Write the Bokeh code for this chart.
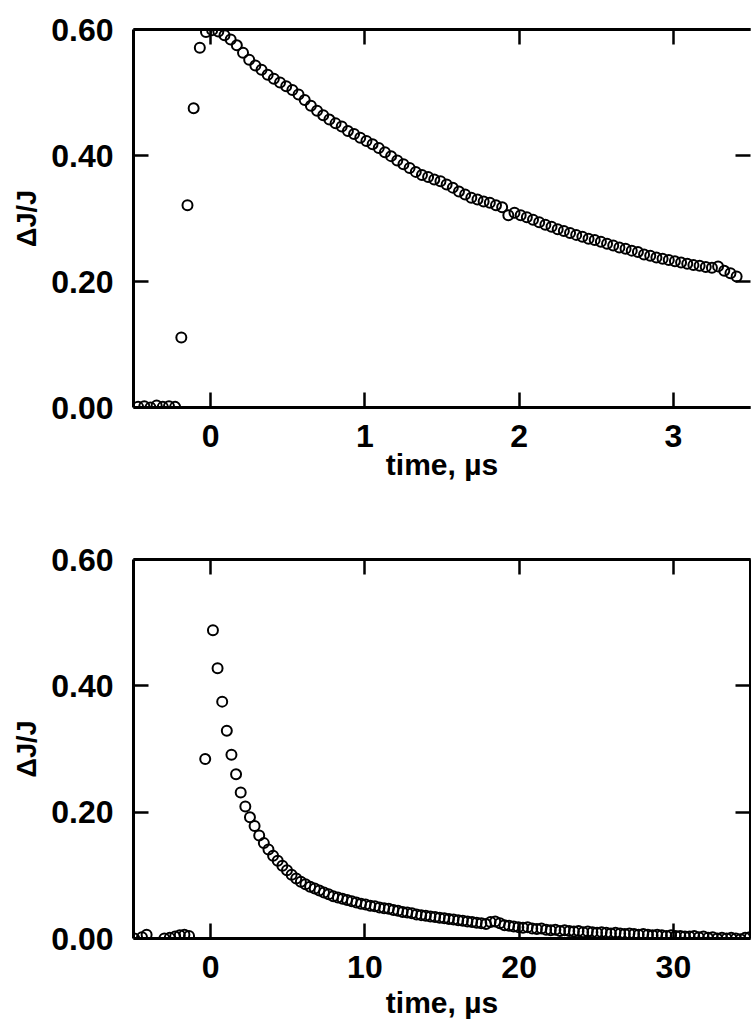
from bokeh.plotting import figure
from bokeh.models import LinearAxis, FixedTicker, NumeralTickFormatter, Range1d
from bokeh.layouts import column
from bokeh.embed import file_html
from bokeh.resources import INLINE

# ---------------- data ----------------
top_t = [-0.47, -0.43, -0.39, -0.35, -0.31, -0.27, -0.23,
         -0.19, -0.15, -0.11, -0.07, -0.03,
         0.01, 0.05, 0.09, 0.13, 0.17, 0.21, 0.25, 0.29, 0.33, 0.37,
         0.41, 0.45, 0.49, 0.53, 0.57, 0.61, 0.65, 0.69, 0.73, 0.77,
         0.81, 0.85, 0.89, 0.93, 0.97, 1.01, 1.05, 1.09, 1.13, 1.17,
         1.21, 1.25, 1.29, 1.33, 1.37, 1.41, 1.45, 1.49, 1.53, 1.57,
         1.61, 1.65, 1.69, 1.73, 1.77, 1.81, 1.85, 1.89, 1.93, 1.97,
         2.01, 2.05, 2.09, 2.13, 2.17, 2.21, 2.25, 2.29, 2.33, 2.37,
         2.41, 2.45, 2.49, 2.53, 2.57, 2.61, 2.65, 2.69, 2.73, 2.77,
         2.81, 2.85, 2.89, 2.93, 2.97, 3.01, 3.05, 3.09, 3.13, 3.17,
         3.21, 3.25, 3.29, 3.33, 3.37, 3.41]
top_y = [0.001, 0.002, 0.000, 0.003, 0.001, 0.002, 0.001,
         0.111, 0.321, 0.475, 0.571, 0.596,
         0.599, 0.597, 0.591, 0.584, 0.575, 0.563, 0.552, 0.543, 0.536, 0.528,
         0.522, 0.516, 0.510, 0.504, 0.497, 0.488, 0.479, 0.471, 0.464, 0.457,
         0.451, 0.446, 0.439, 0.434, 0.428, 0.423, 0.418, 0.412, 0.405, 0.399,
         0.392, 0.386, 0.380, 0.374, 0.369, 0.366, 0.362, 0.359, 0.354, 0.349,
         0.343, 0.338, 0.333, 0.330, 0.327, 0.325, 0.321, 0.318, 0.305, 0.309,
         0.305, 0.302, 0.298, 0.294, 0.290, 0.287, 0.283, 0.280, 0.277, 0.274,
         0.271, 0.268, 0.266, 0.263, 0.260, 0.257, 0.254, 0.252, 0.249, 0.247,
         0.243, 0.241, 0.238, 0.236, 0.234, 0.232, 0.230, 0.228, 0.226, 0.225,
         0.223, 0.222, 0.224, 0.217, 0.213, 0.208]

bot_t = [-4.95, -4.45, -4.15, -3.0, -2.65, -2.3, -2.0, -1.7, -1.4, -0.35,
         0.15, 0.45, 0.75, 1.05, 1.35, 1.65, 1.95, 2.25, 2.55, 2.85,
         3.15, 3.45, 3.75, 4.05, 4.35, 4.65, 4.95, 5.25, 5.55, 5.85,
         6.15, 6.45, 6.75, 7.05, 7.35, 7.65, 7.95, 8.25, 8.55, 8.85,
         9.15, 9.45, 9.75, 10.05, 10.35, 10.65, 10.95, 11.25, 11.55, 11.85,
         12.15, 12.45, 12.75, 13.05, 13.35, 13.65, 13.95, 14.25, 14.55, 14.85,
         15.15, 15.45, 15.75, 16.05, 16.35, 16.65, 16.95, 17.25, 17.55, 17.85,
         18.15, 18.45, 18.75, 19.05, 19.35, 19.65, 19.95, 20.25, 20.55, 20.85,
         21.15, 21.45, 21.75, 22.05, 22.35, 22.65, 22.95, 23.25, 23.55, 23.85,
         24.15, 24.45, 24.75, 25.05, 25.35, 25.65, 25.95, 26.25, 26.55, 26.85,
         27.15, 27.45, 27.75, 28.05, 28.35, 28.65, 28.95, 29.25, 29.55, 29.85,
         30.15, 30.45, 30.75, 31.05, 31.35, 31.65, 31.95, 32.25, 32.55, 32.85,
         33.15, 33.45, 33.75, 34.05, 34.35, 34.65, 34.95]
bot_y = [0.000, 0.002, 0.006, 0.000, 0.001, 0.003, 0.005, 0.006, 0.004, 0.284,
         0.488, 0.428, 0.375, 0.329, 0.291, 0.260, 0.231, 0.209, 0.192, 0.178,
         0.163, 0.151, 0.141, 0.131, 0.123, 0.115, 0.108, 0.101, 0.095, 0.090,
         0.086, 0.082, 0.079, 0.076, 0.073, 0.070, 0.067, 0.065, 0.063, 0.061,
         0.059, 0.057, 0.055, 0.054, 0.052, 0.051, 0.049, 0.048, 0.047, 0.045,
         0.044, 0.042, 0.041, 0.040, 0.038, 0.037, 0.036, 0.035, 0.034, 0.033,
         0.032, 0.031, 0.030, 0.029, 0.028, 0.027, 0.026, 0.025, 0.024, 0.023,
         0.026, 0.027, 0.024, 0.021, 0.020, 0.019, 0.018, 0.017, 0.018, 0.016,
         0.015, 0.016, 0.014, 0.013, 0.014, 0.012, 0.013, 0.012, 0.011, 0.012,
         0.010, 0.011, 0.010, 0.009, 0.010, 0.009, 0.008, 0.009, 0.008, 0.007,
         0.008, 0.007, 0.006, 0.007, 0.006, 0.005, 0.006, 0.005, 0.004, 0.005,
         0.004, 0.004, 0.003, 0.003, 0.004, 0.002, 0.003, 0.001, 0.002, 0.000,
         0.001, 0.000, 0.001, 0.000, -0.001, 0.001, 0.002]

y_ticks = [0.0, 0.2, 0.4, 0.6]
top_x_ticks = [0, 1, 2, 3]
bot_x_ticks = [0, 10, 20, 30]
x_label = "time, µs"
y_label = "ΔJ/J"

FONT = "Liberation Sans"


def style_axis(ax, ticks, show_labels=True, line=True):
    ax.ticker = FixedTicker(ticks=ticks)
    ax.axis_line_width = 3
    ax.axis_line_color = "black" if line else None
    ax.major_tick_in = 15
    ax.major_tick_out = 0
    ax.major_tick_line_width = 2.5
    ax.major_tick_line_color = "black"
    ax.minor_tick_line_color = None
    if show_labels:
        ax.major_label_text_font = FONT
        ax.major_label_text_font_style = "bold"
        ax.major_label_text_font_size = "32px"
        ax.major_label_text_color = "black"
        ax.axis_label_text_font = FONT
        ax.axis_label_text_font_style = "bold"
        ax.axis_label_text_color = "black"
    else:
        ax.major_label_text_color = None
        ax.major_label_text_font_size = "1px"
        ax.major_label_standoff = 0


def make_panel(t, y, xr, xticks, height, b_top, b_bottom, xlabel_standoff, right_line):
    p = figure(width=751, height=height, x_range=Range1d(*xr), y_range=Range1d(0, 0.6),
               output_backend="svg", toolbar_location=None,
               min_border_left=133, min_border_right=1,
               min_border_top=b_top, min_border_bottom=b_bottom)
    p.outline_line_color = None
    p.xgrid.visible = False
    p.ygrid.visible = False
    p.background_fill_color = "white"
    p.border_fill_color = "white"

    xa = p.xaxis[0]
    style_axis(xa, xticks)
    xa.major_label_standoff = 17
    xa.axis_label = x_label
    xa.axis_label_text_font_size = "30px"
    xa.axis_label_standoff = xlabel_standoff

    ya = p.yaxis[0]
    style_axis(ya, y_ticks)
    ya.formatter = NumeralTickFormatter(format="0.00")
    ya.major_label_standoff = 20
    ya.axis_label = y_label
    ya.axis_label_text_font_size = "27px"
    ya.axis_label_standoff = 6

    top_ax = LinearAxis()
    style_axis(top_ax, xticks, show_labels=False)
    p.add_layout(top_ax, "above")

    right_ax = LinearAxis()
    style_axis(right_ax, y_ticks, show_labels=False, line=right_line)
    p.add_layout(right_ax, "right")

    p.scatter(t, y, marker="circle", size=10, fill_color=None,
              line_color="black", line_width=2)
    return p


p1 = make_panel(top_t, top_y, (-0.5, 3.5), top_x_ticks, 500, 29, 93, -2, False)
p2 = make_panel(bot_t, bot_y, (-5, 35), bot_x_ticks, 523, 59, 85, 5, True)

layout = column(p1, p2, spacing=0)
open("out.html", "w").write(file_html(layout, INLINE))
